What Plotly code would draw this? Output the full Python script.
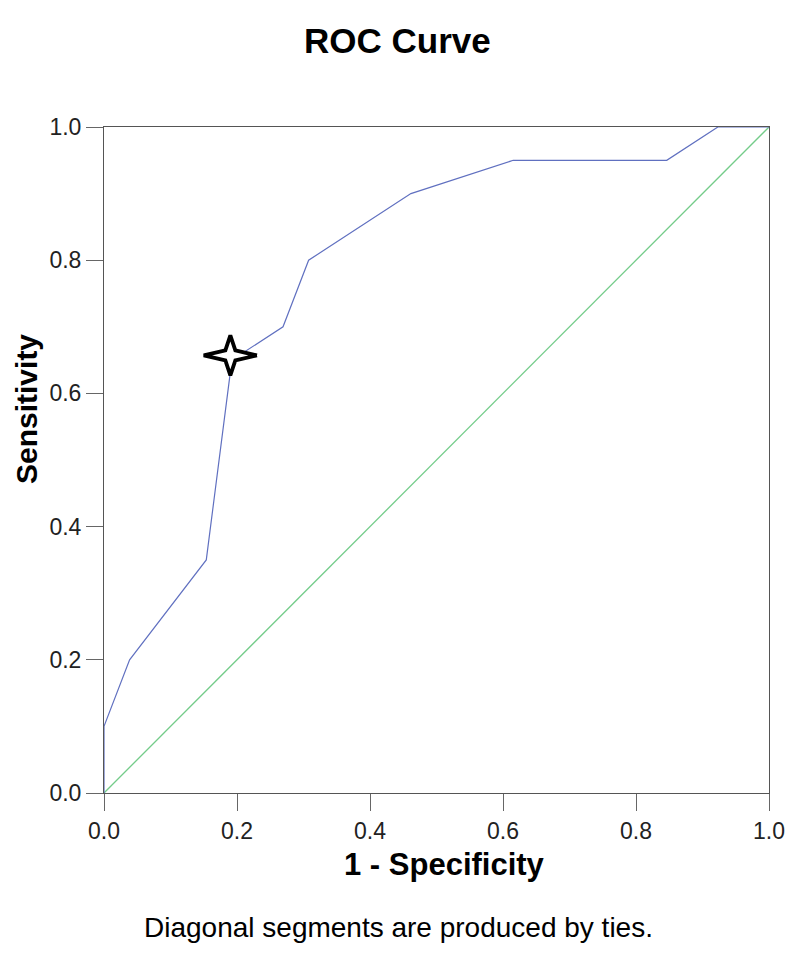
import plotly.graph_objects as go

# ROC curve data (1 - specificity, sensitivity)
fpr = [0.0, 0.0, 0.0385, 0.1538, 0.1923, 0.2692, 0.3077, 0.4615, 0.6154, 0.8462, 0.9231, 1.0]
tpr = [0.0, 0.10, 0.20, 0.35, 0.65, 0.70, 0.80, 0.90, 0.95, 0.95, 1.0, 1.0]
ref_x = [0.0, 1.0]
ref_y = [0.0, 1.0]
cut_x = 0.19
cut_y = 0.657
tick_vals = [0.0, 0.2, 0.4, 0.6, 0.8, 1.0]
tick_text = ["0.0", "0.2", "0.4", "0.6", "0.8", "1.0"]

FONT = "Liberation Sans, Arial, sans-serif"

# star marker outline (style: arm half-lengths in axis units)
ARM_X, ARM_Y, INNER = 0.040, 0.030, 0.0075
star_x = [cut_x + ARM_X, cut_x + INNER, cut_x, cut_x - INNER, cut_x - ARM_X,
          cut_x - INNER, cut_x, cut_x + INNER, cut_x + ARM_X]
star_y = [cut_y, cut_y + INNER, cut_y + ARM_Y, cut_y + INNER, cut_y,
          cut_y - INNER, cut_y - ARM_Y, cut_y - INNER, cut_y]

fig = go.Figure()
fig.add_trace(go.Scatter(x=ref_x, y=ref_y, mode="lines",
                         line=dict(color="#74cc8a", width=1.3), hoverinfo="skip"))
fig.add_trace(go.Scatter(x=fpr, y=tpr, mode="lines",
                         line=dict(color="#6070c0", width=1.2)))
fig.add_trace(go.Scatter(x=star_x, y=star_y, mode="lines", fill="toself",
                         fillcolor="white", line=dict(color="black", width=3.8),
                         hoverinfo="skip"))

axis_common = dict(
    range=[0, 1], tickvals=tick_vals, ticktext=tick_text,
    showgrid=False, zeroline=False, showline=True, linecolor="#555555", linewidth=1,
    mirror=True, ticks="outside", ticklen=17, tickcolor="#666666", tickwidth=1,
    tickfont=dict(family=FONT, size=23, color="#222222"),
)

def px_x(X):
    return (X - 104) / 665

def px_y(Y):
    return (793 - Y) / 666

fig.update_layout(
    width=792, height=946,
    paper_bgcolor="white", plot_bgcolor="white",
    showlegend=False,
    margin=dict(l=96, r=31, t=119, b=161),
    xaxis=dict(**axis_common),
    yaxis=dict(**axis_common),
    annotations=[
        dict(text="<b>ROC Curve</b>", xref="paper", yref="paper",
             x=px_x(397), y=px_y(40), xanchor="center", yanchor="middle", showarrow=False,
             font=dict(family=FONT, size=35, color="black")),
        dict(text="<b>1 - Specificity</b>", xref="paper", yref="paper",
             x=px_x(444), y=px_y(864), xanchor="center", yanchor="middle", showarrow=False,
             font=dict(family=FONT, size=31, color="black")),
        dict(text="<b>Sensitivity</b>", xref="paper", yref="paper", textangle=-90,
             x=px_x(26), y=px_y(409), xanchor="center", yanchor="middle", showarrow=False,
             font=dict(family=FONT, size=30, color="black")),
        dict(text="Diagonal segments are produced by ties.",
             xref="paper", yref="paper", x=px_x(398), y=px_y(927),
             xanchor="center", yanchor="middle", showarrow=False,
             font=dict(family=FONT, size=28, color="black")),
    ],
)

fig.write_html("out.html")
